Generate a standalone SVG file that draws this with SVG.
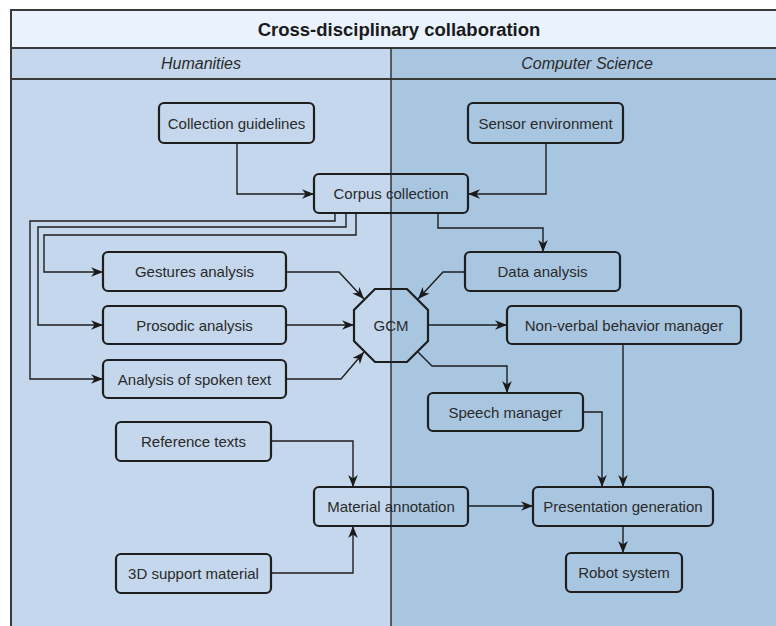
<svg xmlns="http://www.w3.org/2000/svg" width="776" height="626" viewBox="0 0 776 626">
<defs>
<marker id="arr" viewBox="0 0 10 8" refX="10" refY="4" markerWidth="12" markerHeight="10" markerUnits="userSpaceOnUse" orient="auto">
<path d="M0,0 L10,4 L0,8 L3,4 Z" fill="#1a1a1a"/>
</marker>
</defs>
<style>
.node{fill:none;stroke:#1e1e1e;stroke-width:2.2}
.lbl{font-family:"Liberation Sans",Arial,sans-serif;font-size:15px;fill:#2a2a2a;text-anchor:middle;dominant-baseline:central}
.edge{fill:none;stroke:#1e1e1e;stroke-width:1.4;marker-end:url(#arr)}
.lane{font-family:"Liberation Sans",Arial,sans-serif;font-size:16px;font-style:italic;fill:#2a2a2a;text-anchor:middle;dominant-baseline:central}
</style>
<rect width="776" height="626" fill="#ffffff"/>
<g id="pool">
<rect x="11" y="10" width="780" height="38" fill="#eaf2fd"/>
<rect x="11" y="48" width="380" height="600" fill="#c5d7ec"/>
<rect x="391" y="48" width="400" height="600" fill="#a9c6e1"/>
<rect x="11" y="10" width="780" height="640" fill="none" stroke="#3a3a3a" stroke-width="2"/>
<line x1="11" y1="48" x2="791" y2="48" stroke="#3a3a3a" stroke-width="2"/>
<line x1="11" y1="79" x2="791" y2="79" stroke="#3a3a3a" stroke-width="2"/>
<line x1="391" y1="48" x2="391" y2="640" stroke="#2a2a2a" stroke-width="1.4"/>
<text x="399" y="29" font-family="Liberation Sans,Arial,sans-serif" font-size="18.5" font-weight="bold" fill="#1a1a1a" text-anchor="middle" dominant-baseline="central">Cross-disciplinary collaboration</text>
<text class="lane" x="201" y="63">Humanities</text>
<text class="lane" x="587" y="63">Computer Science</text>
</g>
<g id="connectors">
<path class="edge" d="M237,143 V194 H314"/>
<path class="edge" d="M546,143 V194 H468"/>
<path class="edge" d="M438,213 V228 H543 V252"/>
<path class="edge" d="M335,213 V221 H30 V379 H103"/>
<path class="edge" d="M346,213 V227 H38 V325 H103"/>
<path class="edge" d="M356,213 V235 H44 V272 H103"/>
<path class="edge" d="M286,272 H339 L364,299"/>
<path class="edge" d="M286,325 H354"/>
<path class="edge" d="M286,379 H341 L364,352"/>
<path class="edge" d="M465,272 H443 L418,299"/>
<path class="edge" d="M428,325 H507"/>
<path class="edge" d="M418,352 L432,366 H507 V393"/>
<path class="edge" d="M583,412 H602 V487"/>
<path class="edge" d="M623,344 V487"/>
<path class="edge" d="M271,441 H353 V487"/>
<path class="edge" d="M271,573 H353 V526"/>
<path class="edge" d="M468,506 H533"/>
<path class="edge" d="M623,526 V553"/>
</g>
<g id="collection-guidelines"><rect class="node" x="159" y="103" width="155" height="40" rx="5"/><text class="lbl" x="236.5" y="123">Collection guidelines</text></g>
<g id="sensor-environment"><rect class="node" x="468" y="103" width="155" height="40" rx="5"/><text class="lbl" x="545.5" y="123">Sensor environment</text></g>
<g id="corpus-collection"><rect class="node" x="314" y="174" width="154" height="39" rx="5"/><text class="lbl" x="391" y="193.5">Corpus collection</text></g>
<g id="gestures-analysis"><rect class="node" x="103" y="252" width="183" height="39" rx="5"/><text class="lbl" x="194.5" y="271.5">Gestures analysis</text></g>
<g id="data-analysis"><rect class="node" x="465" y="252" width="155" height="39" rx="5"/><text class="lbl" x="542.5" y="271.5">Data analysis</text></g>
<g id="prosodic-analysis"><rect class="node" x="103" y="306" width="183" height="38" rx="5"/><text class="lbl" x="194.5" y="325">Prosodic analysis</text></g>
<g id="gcm"><polygon class="node" points="375,289 407,289 428,310 428,341 407,362 375,362 354,341 354,310"/><text class="lbl" x="391" y="325">GCM</text></g>
<g id="non-verbal-behavior-manager"><rect class="node" x="507" y="306" width="234" height="38" rx="5"/><text class="lbl" x="624" y="325">Non-verbal behavior manager</text></g>
<g id="analysis-of-spoken-text"><rect class="node" x="103" y="360" width="183" height="38" rx="5"/><text class="lbl" x="194.5" y="379">Analysis of spoken text</text></g>
<g id="speech-manager"><rect class="node" x="428" y="393" width="155" height="38" rx="5"/><text class="lbl" x="505.5" y="412">Speech manager</text></g>
<g id="reference-texts"><rect class="node" x="116" y="422" width="155" height="39" rx="5"/><text class="lbl" x="193.5" y="441.5">Reference texts</text></g>
<g id="material-annotation"><rect class="node" x="314" y="487" width="154" height="39" rx="5"/><text class="lbl" x="391" y="506.5">Material annotation</text></g>
<g id="presentation-generation"><rect class="node" x="533" y="487" width="180" height="39" rx="5"/><text class="lbl" x="623" y="506.5">Presentation generation</text></g>
<g id="support-material-3d"><rect class="node" x="116" y="554" width="155" height="39" rx="5"/><text class="lbl" x="193.5" y="573.5">3D support material</text></g>
<g id="robot-system"><rect class="node" x="566" y="553" width="116" height="39" rx="5"/><text class="lbl" x="624" y="572.5">Robot system</text></g>
</svg>
